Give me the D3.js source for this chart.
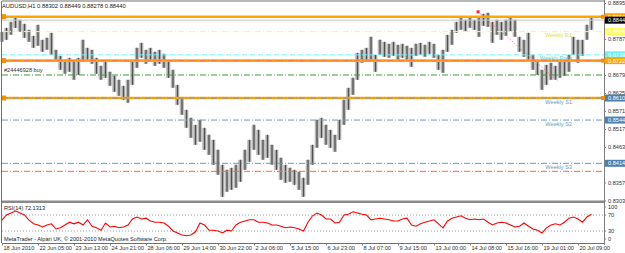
<!DOCTYPE html>
<html>
<head>
<meta charset="utf-8">
<script src="https://cdn.jsdelivr.net/npm/d3@7"></script>
<style>
body { margin: 0; background: #fff; }
svg text { font-family: "Liberation Sans", Arial, sans-serif; }
</style>
</head>
<body>
<svg id="chart" width="625" height="253"></svg>
<script>
// 4-hour groups of the H1 bars, high / low
const barHigh = [0.8809,0.8821,0.8839,0.8854,0.8845,0.8833,0.8815,0.8797,0.8830,0.8785,
  0.8791,0.8806,0.8755,0.8737,0.8725,0.8731,0.8719,0.8731,0.8785,0.8761,
  0.8755,0.8731,0.8707,0.8719,0.8689,0.8677,0.8665,0.8647,0.8665,0.8719,
  0.8761,0.8776,0.8755,0.8761,0.8749,0.8755,0.8743,0.8719,0.8695,0.8650,
  0.8611,0.8575,0.8551,0.8530,0.8545,0.8521,0.8500,0.8485,0.8455,0.8410,
  0.8395,0.8401,0.8410,0.8425,0.8455,0.8485,0.8530,0.8515,0.8485,0.8500,
  0.8470,0.8455,0.8431,0.8410,0.8401,0.8395,0.8389,0.8371,0.8425,0.8470,
  0.8545,0.8551,0.8530,0.8515,0.8500,0.8545,0.8605,0.8641,0.8671,0.8746,
  0.8755,0.8761,0.8794,0.8740,0.8785,0.8779,0.8773,0.8779,0.8770,0.8773,
  0.8767,0.8761,0.8773,0.8776,0.8770,0.8779,0.8773,0.8740,0.8755,0.8800,
  0.8815,0.8839,0.8851,0.8845,0.8854,0.8845,0.8851,0.8863,0.8866,0.8839,
  0.8845,0.8839,0.8845,0.8851,0.8845,0.8794,0.8785,0.8806,0.8740,0.8725,
  0.8695,0.8710,0.8716,0.8707,0.8719,0.8725,0.8740,0.8794,0.8785,0.8785,
  0.8830,0.8851];
const barLow = [0.8779,0.8785,0.8800,0.8821,0.8809,0.8791,0.8779,0.8761,0.8767,0.8749,
  0.8755,0.8740,0.8719,0.8695,0.8683,0.8689,0.8665,0.8680,0.8719,0.8725,
  0.8713,0.8683,0.8665,0.8671,0.8647,0.8629,0.8617,0.8605,0.8596,0.8650,
  0.8701,0.8731,0.8713,0.8719,0.8707,0.8713,0.8701,0.8671,0.8641,0.8590,
  0.8560,0.8521,0.8491,0.8470,0.8479,0.8455,0.8440,0.8410,0.8380,0.8314,
  0.8329,0.8335,0.8341,0.8359,0.8395,0.8419,0.8455,0.8440,0.8425,0.8431,
  0.8410,0.8395,0.8365,0.8356,0.8359,0.8350,0.8335,0.8314,0.8350,0.8410,
  0.8461,0.8491,0.8470,0.8461,0.8449,0.8485,0.8530,0.8575,0.8620,0.8665,
  0.8716,0.8725,0.8725,0.8689,0.8740,0.8734,0.8731,0.8737,0.8725,0.8731,
  0.8725,0.8704,0.8737,0.8740,0.8734,0.8743,0.8731,0.8695,0.8686,0.8749,
  0.8770,0.8806,0.8815,0.8809,0.8821,0.8815,0.8794,0.8827,0.8824,0.8776,
  0.8800,0.8785,0.8797,0.8809,0.8794,0.8749,0.8734,0.8725,0.8695,0.8680,
  0.8635,0.8650,0.8665,0.8665,0.8671,0.8677,0.8689,0.8740,0.8716,0.8737,
  0.8785,0.8815];
const rsiValues = [57,70,75,80,75,70,57,48,45,40, 45,48,35,38,45,52,48,52,45,58,
  42,38,32,50,40,42,38,40,45,60, 65,60,62,55,52,52,50,42,30,25,
  20,18,20,28,50,45,32,32,30,25, 32,30,45,52,55,58,58,52,52,50,
  45,45,42,38,40,38,35,30,52,68, 75,70,60,60,50,52,70,72,78,75,
  72,70,58,60,62,60,58,55,55,60, 62,45,42,48,52,55,58,48,38,55,
  62,65,68,62,58,60,58,60,52,45, 50,52,50,45,40,42,50,42,35,32,
  25,38,45,48,45,52,62,65,60,52, 65,72.13];

const timeLabels = ["18 Jun 2010","22 Jun 05:00","23 Jun 13:00","24 Jun 21:00","28 Jun 06:00",
  "29 Jun 14:00","30 Jun 22:00","2 Jul 06:00","5 Jul 15:00","6 Jul 23:00","8 Jul 07:00",
  "9 Jul 15:00","13 Jul 00:00","14 Jul 08:00","15 Jul 16:00","19 Jul 01:00","20 Jul 09:00"];
const priceTicks = [0.88955,0.87875,0.86795,0.86255,0.85715,0.85175,0.84635,0.83570,0.83030];
const rsiTicks = [100,70,30,0];

const pivotNames = ["Weekly R1","Weekly Pivot","Weekly S1","Weekly S2","Weekly S3"];
const pivotPrices = [0.88097,0.87399,0.86103,0.85443,0.84145];
const zonePrices = [0.88543,0.87227,0.86103];
const bidPrice = 0.88440;
const orderOpen = 0.86795, orderSL = 0.83905, orderTP = 0.87227;
const orderLabel = "#24446928 buy";
const tradeLine = [[105.8,0.8869],[123.5,0.8662]];

const svg = d3.select("#chart");
const axisX = 604;

const x = d3.scaleLinear().domain([0, barHigh.length - 1]).range([2, 591.5]);
const y = d3.scaleLinear().domain([0.82984, 0.89015]).range([202, 1]);
const yr = d3.scaleLinear().domain([0, 100]).range([243, 203]);
const step = x(1) - x(0);

// frame
svg.append("line").attr("x1", 2).attr("x2", axisX).attr("y1", 1).attr("y2", 1).attr("stroke", "#707070");
svg.append("line").attr("x1", 1.5).attr("x2", 1.5).attr("y1", 1).attr("y2", 243).attr("stroke", "#707070");
svg.append("rect").attr("x", 2).attr("y", 200.5).attr("width", axisX - 2).attr("height", 2.5).attr("fill", "#8a8a8a");

// price bars
const bars = svg.append("g");
bars.selectAll("rect").data(barHigh).enter().append("rect")
  .attr("x", (d, i) => x(i) - step / 2)
  .attr("y", d => y(d))
  .attr("width", step - 0.4)
  .attr("height", (d, i) => y(barLow[i]) - y(d))
  .attr("fill", "#b8b8b8");
bars.selectAll("line").data(barHigh).enter().append("line")
  .attr("x1", (d, i) => x(i)).attr("x2", (d, i) => x(i))
  .attr("y1", d => y(d)).attr("y2", (d, i) => y(barLow[i]))
  .attr("stroke", "#505050").attr("stroke-width", 1.3);

// level lines
const lines = svg.append("g");
function hline(p, color, width, dash) {
  lines.append("line").attr("x1", 2).attr("x2", axisX).attr("y1", y(p)).attr("y2", y(p))
    .attr("stroke", color).attr("stroke-width", width).attr("stroke-dasharray", dash || null);
}
zonePrices.forEach(p => {
  hline(p, "#ffa500", 2.6);
  svg.append("rect").attr("x", 2).attr("y", y(p) - 2.5).attr("width", 4).attr("height", 5).attr("fill", "#f09000");
});
hline(bidPrice, "#c8c8c8", 1);
hline(pivotPrices[0], "#ffff55", 1, "6,2,1,2");
hline(pivotPrices[1], "#70f0f0", 1, "5,3");
pivotPrices.slice(2).forEach(p => hline(p, "#6f97bd", 1, "6,2,1,2"));
hline(orderOpen, "#3c9a3c", 1, "6,2,1,2");
hline(orderTP, "#ff7a3a", 1, "6,2,1,2");
hline(orderSL, "#ff6a3a", 1, "6,2,1,2");

// pivot names
const pivotColors = ["#e0e040", "#60c8d0", "#6f97bd", "#6f97bd", "#6f97bd"];
svg.append("g").selectAll("text").data(pivotNames).enter().append("text")
  .attr("x", 572)
  .attr("y", (d, i) => y(pivotPrices[i]) + 5.5)
  .attr("text-anchor", "end").attr("font-size", 5.6)
  .attr("fill", (d, i) => pivotColors[i]).text(d => d);

svg.append("text").attr("x", 4).attr("y", y(orderOpen) - 2.6).attr("font-size", 5.6)
  .attr("fill", "#303030").text(orderLabel);

// trade line
svg.append("line")
  .attr("x1", x(tradeLine[0][0])).attr("y1", y(tradeLine[0][1]))
  .attr("x2", x(tradeLine[1][0])).attr("y2", y(tradeLine[1][1]))
  .attr("stroke", "#ff6060").attr("stroke-width", 1).attr("stroke-dasharray", "1,2");
svg.append("rect").attr("x", x(tradeLine[0][0]) - 1.5).attr("y", y(tradeLine[0][1]) - 1.5)
  .attr("width", 3).attr("height", 3).attr("fill", "#ff2020");

// title
svg.append("text").attr("x", 2).attr("y", 8).attr("font-size", 5.8).attr("fill", "#202020")
  .text("AUDUSD,H1  0.88302 0.88449 0.88278 0.88440");

// RSI panel
svg.append("g").selectAll("line").data([70, 30]).enter().append("line")
  .attr("x1", 2).attr("x2", axisX).attr("y1", d => yr(d)).attr("y2", d => yr(d))
  .attr("stroke", "#a0a0a0").attr("stroke-dasharray", "1,2");
svg.append("path").datum(rsiValues)
  .attr("fill", "none").attr("stroke", "#ff0000").attr("stroke-width", 1.1)
  .attr("d", d3.line().x((d, i) => x(i)).y(d => yr(d)));
svg.append("text").attr("x", 4).attr("y", 210).attr("font-size", 5.6).attr("fill", "#202020")
  .text("RSI(14) 72.1313");
svg.append("text").attr("x", 4).attr("y", 241).attr("font-size", 5.6).attr("fill", "#202020")
  .text("MetaTrader - Alpari UK, © 2001-2010 MetaQuotes Software Corp.");

// right axes
const priceAxis = d3.axisRight(y).tickValues(priceTicks).tickSize(2).tickFormat(d3.format(".5f"));
const pa = svg.append("g").attr("transform", `translate(${axisX},0)`).call(priceAxis);
pa.select(".domain").remove();
const rsiAxis = d3.axisRight(yr).tickValues(rsiTicks).tickSize(2);
const ra = svg.append("g").attr("transform", `translate(${axisX},0)`).call(rsiAxis);
ra.select(".domain").remove();
ra.selectAll(".tick").attr("transform", d => `translate(0,${Math.min(239, Math.max(207, yr(d)))})`);
[pa, ra].forEach(g => {
  g.selectAll("text").attr("font-size", 5.6).attr("fill", "#303030").attr("x", 4);
  g.selectAll("line").attr("stroke", "#808080");
});
svg.append("line").attr("x1", axisX + 0.5).attr("x2", axisX + 0.5).attr("y1", 0).attr("y2", 245)
  .attr("stroke", "#808080");

// price label boxes
const boxPrices = [zonePrices[0], bidPrice, pivotPrices[0], pivotPrices[1], zonePrices[1], pivotPrices[2], pivotPrices[3], pivotPrices[4]];
const boxColors = ["#ffa500", "#000000", "#ffff55", "#70f0f0", "#ffa500", "#4f7fb0", "#4f7fb0", "#4f7fb0"];
const boxes = svg.append("g").selectAll("g").data(boxPrices).enter().append("g")
  .attr("transform", d => `translate(${axisX + 1},${y(d)})`);
boxes.append("rect").attr("x", 0).attr("y", -3.5).attr("width", 24).attr("height", 7)
  .attr("fill", (d, i) => boxColors[i]);
boxes.append("text").attr("x", 3).attr("y", 2).attr("font-size", 5.6).attr("fill", "#fff")
  .text(d => d3.format(".5f")(d));
svg.append("g").selectAll("rect").data(zonePrices).enter().append("rect")
  .attr("x", axisX - 3).attr("y", d => y(d) - 2).attr("width", 4).attr("height", 4).attr("fill", "#f09000");

// time axis
svg.append("line").attr("x1", 2).attr("x2", axisX).attr("y1", 243.5).attr("y2", 243.5).attr("stroke", "#707070");
const timeAxis = d3.axisBottom(x).tickValues(timeLabels.map((d, i) => i * 8)).tickSize(2)
  .tickFormat((d, i) => timeLabels[i]);
const ta = svg.append("g").attr("transform", "translate(0,243.5)").call(timeAxis);
ta.select(".domain").remove();
ta.selectAll("text").attr("font-size", 5.6).attr("fill", "#303030")
  .attr("text-anchor", "start").attr("x", 1).attr("y", 2.5).attr("dy", "0.71em");
ta.selectAll("line").attr("stroke", "#808080");
</script>
</body>
</html>
